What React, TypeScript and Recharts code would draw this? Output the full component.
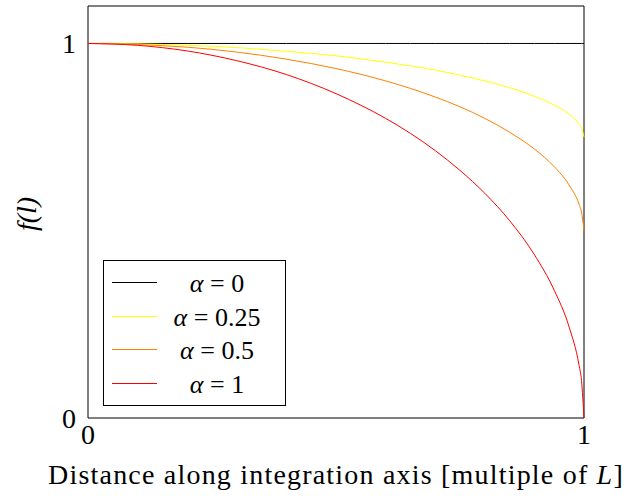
import React from "react";
import { LineChart, Line, XAxis, YAxis, ReferenceArea } from "recharts";

// values
const distance = [0, 0.1, 0.2, 0.3, 0.4, 0.5, 0.6, 0.65, 0.7, 0.75, 0.8, 0.85, 0.9, 0.94, 0.97, 0.99, 0.995, 1];
const alpha0 = [1, 1, 1, 1, 1, 1, 1, 1, 1, 1, 1, 1, 1, 1, 1, 1, 1, 1];
const alpha025 = [1, 0.999, 0.995, 0.989, 0.979, 0.967, 0.95, 0.94, 0.929, 0.915, 0.9, 0.882, 0.859, 0.835, 0.811, 0.785, 0.775, 0.75];
const alpha05 = [1, 0.997, 0.99, 0.977, 0.958, 0.933, 0.9, 0.88, 0.857, 0.831, 0.8, 0.763, 0.718, 0.671, 0.622, 0.571, 0.55, 0.5];
const alpha1 = [1, 0.995, 0.98, 0.954, 0.917, 0.866, 0.8, 0.76, 0.714, 0.661, 0.6, 0.527, 0.436, 0.341, 0.243, 0.141, 0.1, 0];

const xTicks = [0, 1];
const yTicks = [0, 1];

const series = [
  { key: "a0", label: "0", color: "#000000" },
  { key: "a025", label: "0.25", color: "#ffff00" },
  { key: "a05", label: "0.5", color: "#ff8000" },
  { key: "a1", label: "1", color: "#ff0000" },
];

const data = distance.map((d, i) => ({
  x: d,
  a0: alpha0[i],
  a025: alpha025[i],
  a05: alpha05[i],
  a1: alpha1[i],
}));

const FONT = "Liberation Serif";
const FS = 28;
const rowY = [22, 56, 89, 123];

function LegendBox() {
  return (
    <svg
      width={183}
      height={146}
      style={{ position: "absolute", left: 103, top: 260 }}
    >
      <rect x={0.5} y={0.5} width={182} height={145} fill="#fff" stroke="#000" strokeWidth={1} />
      {series.map((s, i) => (
        <g key={s.key}>
          <line x1={9} x2={54} y1={rowY[i] + 0.5} y2={rowY[i] + 0.5} stroke={s.color} strokeWidth={1} />
          <text
            x={114}
            y={rowY[i] + 1}
            textAnchor="middle"
            dominantBaseline="central"
            style={{ fontSize: FS - 2, fontFamily: FONT }}
            fill="#000"
          >
            <tspan fontStyle="italic">α</tspan> = {s.label}
          </text>
        </g>
      ))}
    </svg>
  );
}

const XLabel = (props: any) => {
  const vb = props.viewBox;
  return (
    <text
      x={vb.x + vb.width / 2}
      y={478}
      textAnchor="middle"
      dominantBaseline="middle"
      style={{ fontSize: FS, fontFamily: FONT, letterSpacing: 1.2 }}
      fill="#000"
    >
      Distance along integration axis [multiple of <tspan fontStyle="italic">L</tspan>]
    </text>
  );
};

const YLabel = () => (
  <text
    x={0}
    y={0}
    transform="translate(30 214) rotate(-90)"
    textAnchor="middle"
    dominantBaseline="middle"
    style={{ fontSize: FS, fontFamily: FONT, fontStyle: "italic" }}
    fill="#000"
  >
    f(l)
  </text>
);

export default function App() {
  return (
    <div style={{ position: "absolute", left: 0, top: 0, width: 629, height: 499, background: "#fff", fontFamily: FONT }}>
      <LineChart
        width={629}
        height={499}
        data={data}
        margin={{ top: 6, right: 45, left: 0, bottom: 0 }}
        style={{ fontFamily: FONT }}
      >
        <XAxis
          dataKey="x"
          type="number"
          domain={[0, 1]}
          ticks={xTicks}
          axisLine={false}
          tickLine={false}
          tick={{ fontSize: FS, fill: "#000", style: { fontFamily: FONT } }}
          tickMargin={0}
          height={81}
          label={<XLabel />}
        />
        <YAxis
          type="number"
          domain={[0, 1.1]}
          ticks={yTicks}
          width={88}
          axisLine={false}
          tickLine={false}
          tick={{ fontSize: FS, fill: "#000", style: { fontFamily: FONT } }}
          tickMargin={6}
          label={<YLabel />}
        />
        <ReferenceArea x1={0} x2={1} y1={0} y2={1.1} stroke="#000" strokeWidth={1} fill="none" fillOpacity={0} />
        {series.map((s) => (
          <Line
            key={s.key}
            dataKey={s.key}
            type="monotone"
            stroke={s.color}
            strokeWidth={1}
            dot={false}
            isAnimationActive={false}
          />
        ))}
      </LineChart>
      <LegendBox />
    </div>
  );
}
